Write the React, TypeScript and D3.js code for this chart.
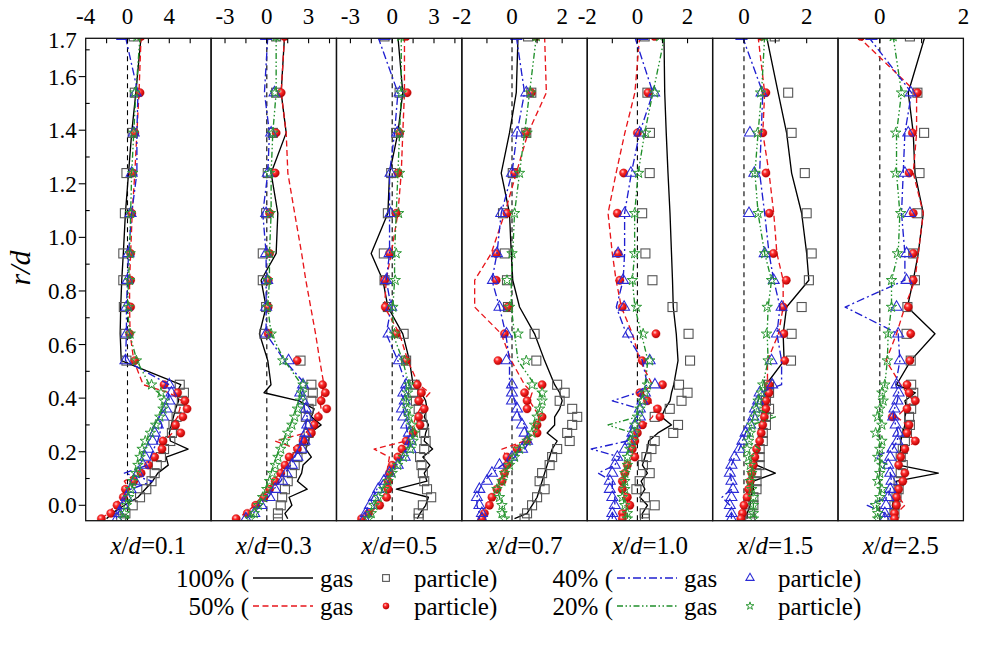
import React from "react";
import * as d3 from "d3";

// radial positions r/d of the measurement points (shared by every series)
const rPos = [1.75, 1.54, 1.39, 1.24, 1.09, 0.94, 0.84, 0.74, 0.64, 0.54,
  0.45, 0.42, 0.39, 0.36, 0.33, 0.30, 0.27, 0.24, 0.21, 0.18, 0.15, 0.12, 0.09, 0.06, 0.03, 0.00, -0.03, -0.05];

// x/d = 0.1
const a1G100 = [1.3, 0.8, 0.4, 0.1, -0.2, -0.4, -0.55, -0.65, -0.7, -0.6, 5.1, 4.7, 4.9, 4.6, 4.4, 4.2, 4.0, 4.1, 5.8, 3.7, 3.9, 2.9, 2.4, 1.7, 1.0, -0.3, -1.5, -2.0];
const a1P100 = [0.6, 0.7, 0.5, -0.1, -0.25, -0.4, -0.4, -0.35, -0.2, -0.1, 5.0, 5.4, 5.2, 5.0, 4.7, 4.4, 4.25, 4.1, 3.5, 3.2, 2.8, 2.6, 2.3, 1.8, 1.2, 0.5, -0.2, -0.6];
const a1G50 = [1.3, 1.1, 0.9, 0.7, 0.45, 0.3, 0.2, 0.2, 0.25, 0.6, 1.5, 4.0, 5.2, 5.0, 4.8, 4.3, 4.3, 3.5, 3.2, 2.8, 2.0, 1.0, -0.3, 0.2, -0.6, -1.2, -1.8, -2.6];
const a1P50 = [1.3, 1.2, 0.7, 0.5, 0.4, 0.3, 0.3, 0.3, 0.2, 0.7, 3.5, 4.8, 5.5, 5.7, 5.3, 4.6, 5.1, 3.4, 3.3, 2.6, 2.0, 1.3, 0.6, -0.2, -0.4, -1.0, -1.6, -2.5];
const a1G40 = [-0.2, 1.0, 0.9, 0.9, 0.4, 0.1, 0.0, -0.1, -0.1, -0.2, 4.0, 3.9, 4.0, 3.6, 3.0, 3.3, 3.1, 2.9, 2.5, 2.2, 1.9, -0.3, 2.4, 0.3, -0.2, -0.6, -0.9, -1.1];
const a1P40 = [-0.5, 0.8, 0.6, 0.4, 0.3, 0.1, 0.0, -0.1, -0.1, -0.2, 4.0, 4.2, 4.0, 3.7, 3.4, 2.9, 2.6, 2.4, 2.0, 1.7, 1.5, 1.0, 0.7, 0.3, -0.1, -0.4, -0.8, -1.0];
const a1G20 = [1.2, 0.8, 0.6, 0.4, 0.3, 0.2, 0.1, 0.0, 0.2, 0.9, 2.1, 3.0, 3.4, 3.3, 3.0, 2.6, 2.2, 1.8, 1.5, 1.3, 1.0, 0.8, 0.6, 0.4, 0.2, 0.1, 0.1, 0.1];
const a1P20 = [0.9, 0.7, 0.6, 0.5, 0.3, 0.25, 0.2, 0.1, 0.25, 0.85, 2.3, 3.2, 3.5, 3.4, 3.1, 2.7, 2.2, 1.7, 1.4, 1.2, 1.0, 0.8, 0.5, 0.3, 0.1, -0.1, -0.3, -0.4];

// x/d = 0.3
const a2G100 = [1.27, 1.03, 1.39, 0.31, 0.79, 0.67, -0.41, -0.05, -0.53, 0.07, 0.3, -0.2, 2.3, 3.4, 3.2, 3.9, 3.1, 3.0, 2.8, 3.2, 2.6, 2.5, 2.2, 2.9, 1.6, 1.8, 1.3, 1.5];
const a2P100 = [0.67, 0.67, 0.43, 0.07, -0.05, -0.29, -0.29, -0.05, -0.17, 2.42, 3.2, 3.3, 3.2, 3.0, 2.8, 3.1, 3.0, 2.7, 2.5, 2.2, 2.0, 1.8, 1.5, 1.3, 1.1, 1.0, 0.8, 0.8];
const a2G50 = [1.27, 1.03, 1.39, 1.51, 2.0, 2.5, 2.8, 3.15, 3.5, 3.8, 4.1, 4.0, 3.8, 3.9, 3.5, 3.2, 2.8, 0.6, 2.2, 1.7, 1.2, 0.9, 0.5, 0.1, -0.4, -0.9, -1.5, -2.3];
const a2P50 = [1.27, 1.03, 0.67, 0.6, 0.2, 0.2, 0.1, 0.1, 0.1, 2.18, 4.0, 4.2, 3.9, 4.3, 3.7, 3.4, 3.2, 2.6, 2.2, 1.6, 1.3, 1.0, 0.6, 0.2, -0.2, -0.8, -1.4, -2.2];
const a2G40 = [0.07, -0.17, 0.19, 0.07, -0.29, -0.05, -0.05, -0.05, -0.05, 1.27, 2.8, 2.5, 2.6, 2.7, 2.9, 2.8, 2.6, 2.5, 2.3, 2.0, 1.7, 1.3, 1.0, 0.5, 0.1, -0.4, -1.0, -1.5];
const a2P40 = [-0.05, 0.55, 0.31, 0.07, -0.05, -0.05, 0.03, -0.05, -0.05, 1.56, 2.6, 2.4, 2.6, 2.8, 2.9, 2.9, 2.8, 2.7, 2.5, 2.2, 1.8, 1.4, 1.1, 0.6, 0.2, -0.4, -0.9, -1.5];
const a2G20 = [0.67, 0.67, 0.43, 0.31, 0.31, 0.19, 0.19, 0.07, 0.31, 1.27, 2.5, 2.4, 2.3, 2.1, 1.9, 1.7, 1.4, 1.2, 0.9, 0.7, 0.5, 0.3, 0.1, -0.1, -0.3, -0.6, -0.9, -1.2];
const a2P20 = [0.67, 0.6, 0.43, 0.19, 0.25, 0.19, 0.07, 0.03, 0.31, 1.15, 2.6, 2.5, 2.4, 2.2, 2.0, 1.8, 1.5, 1.3, 1.0, 0.8, 0.6, 0.4, 0.2, 0.0, -0.3, -0.6, -0.9, -1.2];

// x/d = 0.5
const a3G100 = [0.41, 0.76, 0.41, -0.19, -0.31, -1.51, -0.67, -0.31, 0.76, 1.24, 1.5, 2.1, 2.4, 2.5, 2.3, 2.6, 2.4, 2.3, 2.9, 2.2, 2.7, 2.3, 2.5, 0.3, 2.6, 2.4, 2.0, 1.8];
const a3P100 = [-0.55, 0.53, 0.29, -0.07, -0.31, -0.6, -0.55, -0.31, 0.82, 1.0, 1.6, 1.5, 1.7, 1.9, 2.1, 2.2, 2.3, 2.4, 2.3, 2.0, 2.1, 2.2, 2.3, 2.5, 2.8, 2.2, 1.9, 1.9];
const a3G50 = [0.88, 0.88, 0.76, 0.65, 0.41, -0.07, -0.43, -0.55, 0.53, 1.12, 1.9, 2.7, 2.2, 2.0, 1.7, 1.5, 1.4, 1.0, -1.3, -0.2, -0.3, -0.4, -0.3, -0.5, -0.6, -1.0, -1.6, -2.1];
const a3P50 = [1.0, 1.07, 0.53, 0.41, 0.29, -0.19, -0.55, -0.5, 0.29, 1.0, 1.8, 2.1, 1.9, 2.3, 1.9, 2.0, 1.5, 1.0, 0.7, 0.4, 0.0, -0.2, -0.3, -0.3, -0.4, -0.9, -1.7, -2.2];
const a3G40 = [-1.03, 0.41, 0.17, -0.19, -0.19, -0.19, -0.43, -0.07, -0.43, 0.41, 1.0, 0.6, 0.9, 0.8, 0.9, 1.0, 1.1, 1.2, 1.1, 0.8, 0.3, -0.3, -0.7, -1.1, -1.4, -1.7, -1.9, -2.0];
const a3P40 = [-0.55, 0.53, 0.36, -0.12, -0.12, -0.19, -0.43, -0.07, -0.26, 0.48, 1.0, 0.8, 0.9, 0.7, 0.8, 1.0, 1.2, 1.3, 1.3, 0.9, 0.4, -0.2, -0.6, -1.0, -1.3, -1.6, -1.9, -2.0];
const a3G20 = [0.65, 0.65, 0.53, 0.41, 0.29, 0.17, 0.17, 0.05, 0.05, 0.76, 1.2, 1.1, 1.0, 1.1, 1.2, 1.3, 1.5, 1.5, 1.2, 0.8, 0.4, 0.0, -0.3, -0.7, -1.0, -1.3, -1.5, -1.7];
const a3P20 = [0.6, 0.65, 0.53, 0.53, 0.46, 0.29, 0.22, 0.05, 0.17, 0.88, 1.2, 1.1, 1.0, 1.1, 1.2, 1.4, 1.6, 1.5, 1.3, 0.8, 0.4, 0.0, -0.3, -0.6, -1.0, -1.3, -1.5, -1.7];

// x/d = 0.7
const a4G100 = [0.24, 0.17, -0.1, -0.43, -0.1, -0.03, 0.03, 0.3, 0.9, 1.3, 1.7, 1.9, 2.0, 1.9, 1.7, 1.7, 1.4, 1.8, 1.6, 1.5, 1.4, 1.3, 1.2, 1.1, 1.0, 0.8, 0.6, 0.1];
const a4P100 = [0.64, 0.77, 0.57, 0.03, -0.36, -0.29, -0.2, -0.16, 0.9, 0.97, 1.8, 2.1, 1.9, 2.4, 2.6, 2.4, 2.2, 2.3, 1.8, 1.6, 1.5, 1.2, 1.1, 1.3, 1.0, 0.8, 0.6, 0.5];
const a4G50 = [1.3, 1.37, 0.64, 0.17, -0.29, -0.83, -1.49, -1.49, -0.43, -0.03, 0.5, 0.8, 0.7, 0.9, 1.1, 1.0, 0.9, 0.5, -0.4, -0.2, -0.3, -0.3, -0.5, -0.6, -0.8, -1.0, -1.2, -1.3];
const a4P50 = [0.97, 0.77, 0.57, 0.1, -0.2, -0.63, -0.63, -0.16, -0.3, -0.56, 1.2, 0.5, 0.6, 0.6, 1.2, 1.0, 1.0, 0.6, 0.2, -0.2, -0.2, -0.3, -0.4, -0.6, -0.8, -0.9, -1.1, -1.2];
const a4G40 = [0.17, 0.5, 0.2, 0.0, -0.43, -0.6, -0.8, -0.5, -0.25, -0.1, -0.1, 0.0, 0.1, 0.2, 0.3, 0.5, 0.6, 0.7, 0.5, 0.1, -0.4, -0.8, -1.1, -1.3, -1.4, -1.4, -1.3, -1.3];
const a4P40 = [0.17, 0.57, 0.2, 0.0, -0.43, -0.6, -0.76, -0.5, -0.22, -0.22, 0.0, 0.0, 0.0, 0.2, 0.2, 0.4, 0.5, 0.6, 0.4, 0.0, -0.5, -0.8, -1.0, -1.3, -1.4, -1.3, -1.2, -1.2];
const a4G20 = [0.97, 0.7, 0.5, 0.3, 0.1, 0.03, -0.03, -0.03, 0.1, 0.24, 0.9, 1.1, 1.2, 1.1, 1.0, 0.9, 0.8, 0.6, 0.3, 0.1, -0.1, -0.3, -0.5, -0.6, -0.5, -0.4, -0.3, -0.2];
const a4P20 = [0.97, 0.74, 0.6, 0.3, 0.1, 0.0, -0.2, -0.1, 0.24, 0.57, 0.8, 1.2, 1.2, 1.1, 1.0, 0.9, 0.8, 0.6, 0.3, 0.1, -0.1, -0.3, -0.4, -0.6, -0.5, -0.4, -0.4, -0.3];

// x/d = 1.0
const a5G100 = [1.06, 1.09, 1.15, 1.22, 1.3, 1.36, 1.4, 1.43, 1.55, 1.62, 1.45, 1.36, 1.3, 1.1, 0.96, 1.36, 0.82, 0.45, 0.4, 0.3, 0.2, 0.4, 0.15, 0.3, 0.1, 0.4, 0.2, 0.2];
const a5P100 = [0.29, 0.4, 0.5, 0.49, 0.19, 0.32, 0.6, 1.4, 2.04, 2.1, 1.66, 2.0, 1.76, 1.29, 0.69, 1.62, 1.43, 0.69, 0.56, 0.36, 0.22, 0.49, 0.09, -0.04, 0.3, 0.69, 0.29, 0.3];
const a5G50 = [0.09, -0.1, -0.5, -0.85, -1.17, -1.0, -0.85, -0.64, -0.2, 0.1, 0.6, 0.2, 0.5, 0.7, 0.6, 0.3, 0.0, -0.2, -0.1, -0.2, -0.4, -0.5, -0.6, -0.6, -0.4, -0.4, -0.5, -0.6];
const a5P50 = [0.69, 0.42, 0.0, -0.55, -0.8, -0.77, -0.7, -0.6, 0.74, 0.19, 1.0, 0.1, 0.4, 0.8, 0.9, 0.2, 0.0, -0.1, -0.2, -0.1, -0.4, -0.5, -0.6, -0.6, -0.4, -0.3, -0.6, -0.6];
const a5G40 = [-0.11, 0.62, 0.09, -0.24, -0.51, -0.51, -0.57, -0.84, -0.44, 0.2, 0.4, 0.0, -1.0, 0.1, 0.0, -0.2, -0.3, -0.4, -1.84, -0.7, -0.9, -1.57, -1.0, -1.0, -0.9, -0.9, -1.0, -1.0];
const a5P40 = [0.2, 0.67, 0.09, -0.26, -0.51, -0.77, -0.57, -0.53, -0.37, 0.49, 0.7, 0.3, 0.2, 0.1, 0.1, -0.1, -0.2, -0.3, -0.5, -0.8, -0.9, -1.0, -1.1, -1.1, -1.0, -0.9, -1.0, -1.0];
const a5G20 = [1.09, 0.62, 0.29, 0.03, -0.11, -0.11, -0.2, -0.1, 0.16, 0.42, 0.3, 0.3, 0.1, 0.0, 0.0, -1.17, -0.2, -0.4, -0.3, -0.5, -0.4, -0.5, -0.5, -0.6, -0.6, -0.5, -0.4, -0.4];
const a5P20 = [0.89, 0.69, 0.33, 0.05, -0.11, -0.11, -0.2, -0.04, 0.23, 0.49, 0.4, 0.3, 0.2, 0.1, 0.0, -0.1, -0.1, -0.2, -0.3, -0.4, -0.4, -0.5, -0.5, -0.5, -0.6, -0.5, -0.4, -0.4];

// x/d = 1.5
const a6G100 = [0.72, 1.09, 1.36, 1.52, 1.84, 2.0, 2.07, 1.36, 1.25, 1.28, 0.7, 0.7, 0.6, 0.6, 0.6, 0.5, 0.5, 0.5, 0.4, 0.4, 0.4, 1.0, 0.3, 0.3, 0.2, 0.2, 0.1, 0.1];
const a6P100 = [0.98, 1.41, 1.52, 1.94, 2.0, 2.16, 2.07, 1.84, 1.52, 1.5, 0.8, 0.8, 0.7, 0.8, 0.7, 0.7, 0.6, 0.6, 0.5, 0.5, 0.5, 0.4, 0.4, 0.4, 0.3, 0.3, 0.2, 0.2];
const a6G50 = [0.45, 0.66, 0.6, 0.8, 0.95, 1.05, 1.25, 1.25, 1.1, 0.75, 0.75, 0.75, 0.7, 0.65, 0.6, 0.55, 0.5, 0.45, 0.4, 0.35, 0.3, 0.25, 0.2, 0.15, 0.1, 0.0, -0.05, -0.1];
const a6P50 = [0.56, 0.7, 0.6, 0.7, 0.81, 0.94, 1.35, 1.25, 1.27, 1.3, 0.8, 0.8, 0.7, 0.7, 0.65, 0.6, 0.55, 0.5, 0.4, 0.35, 0.3, 0.25, 0.2, 0.15, 0.1, 0.0, -0.05, -0.1];
const a6G40 = [-0.05, 0.6, 0.55, 0.5, 0.66, 0.8, 0.95, 1.15, 1.05, 1.2, 1.2, 0.5, 0.45, 0.35, 0.3, 0.2, 0.05, -0.05, -0.15, -0.3, -0.4, -0.45, -0.4, -0.4, -0.7, -0.45, -0.4, -0.4];
const a6P40 = [-0.08, 0.56, 0.19, 0.33, 0.16, 0.66, 0.95, 1.2, 1.05, 0.88, 0.9, 0.5, 0.45, 0.35, 0.3, 0.2, 0.05, -0.05, -0.15, -0.3, -0.4, -0.45, -0.4, -0.35, -0.4, -0.45, -0.4, -0.4];
const a6G20 = [0.66, 0.56, 0.45, 0.35, 0.45, 0.66, 0.88, 0.77, 0.74, 0.77, 0.6, 0.55, 0.45, 0.4, 1.0, 0.25, 0.2, 0.15, 0.5, 0.15, 0.2, 0.25, 0.2, 0.25, 0.3, 0.3, 0.3, 0.3];
const a6P20 = [0.66, 0.53, 0.43, 0.35, 0.45, 0.66, 0.88, 0.74, 0.72, 0.77, 0.6, 0.55, 0.45, 0.4, 0.35, 0.25, 0.2, 0.15, 0.1, 0.15, 0.2, 0.25, 0.2, 0.25, 0.3, 0.3, 0.3, 0.3];

// x/d = 2.5
const a7G100 = [1.08, 0.68, 0.8, 0.84, 1.04, 0.92, 0.8, 0.66, 1.32, 0.74, 0.4, 0.85, 0.6, 0.65, 0.6, 0.6, 0.55, 0.5, 0.5, 0.45, 0.45, 1.4, 0.4, 0.4, 0.35, 0.3, 0.35, 0.3];
const a7P100 = [0.72, 0.9, 1.06, 0.95, 0.9, 0.8, 0.84, 0.66, 0.64, 0.74, 0.75, 0.8, 0.75, 0.75, 0.7, 0.72, 0.65, 0.6, 0.55, 0.5, 0.55, 0.5, 0.45, 0.45, 0.4, 0.35, 0.35, 0.3];
const a7G50 = [-0.52, 0.88, 0.88, 0.8, 1.04, 0.92, 0.84, 0.6, 0.4, 0.15, 0.5, 0.65, 0.8, 0.6, 0.4, 0.65, 0.6, 0.9, 0.55, 0.5, 0.45, 0.55, 0.5, 0.45, 0.45, 0.6, 0.4, 0.35];
const a7P50 = [-0.45, 0.9, 0.78, 0.7, 0.8, 0.8, 0.8, 0.68, 0.74, 0.72, 0.65, 0.7, 0.85, 0.65, 0.3, 0.7, 0.65, 0.85, 0.6, 0.5, 0.45, 0.6, 0.55, 0.45, 0.4, 0.4, 0.35, 0.35];
const a7G40 = [-0.28, 0.76, 0.6, 0.56, 0.52, 0.6, 0.6, -0.83, 0.44, 0.48, 0.38, 0.45, 0.42, 0.35, 0.32, 0.38, 0.44, 0.42, 0.3, -0.1, 0.2, 0.25, 0.28, 0.25, 0.2, -0.3, 0.12, 0.12];
const a7P40 = [-0.2, 0.74, 0.68, 0.6, 0.72, 0.64, 0.64, 0.4, 0.44, 0.48, 0.4, 0.45, 0.42, 0.35, 0.32, 0.38, 0.44, 0.42, 0.3, 0.25, 0.2, 0.25, 0.28, 0.25, 0.2, 0.15, 0.12, 0.12];
const a7G20 = [0.32, 0.52, 0.4, 0.4, 0.48, 0.44, 0.28, 0.28, 0.2, 0.18, 0.12, 0.06, 0.08, 0.02, -0.03, 0.05, -0.08, 0.05, 0.0, -0.03, 0.04, 0.0, -0.04, 0.04, 0.0, -0.08, -0.05, -0.05];
const a7P20 = [0.32, 0.52, 0.38, 0.38, 0.5, 0.42, 0.28, 0.28, 0.2, 0.18, 0.12, 0.05, 0.08, 0.0, -0.05, 0.05, -0.1, 0.05, 0.0, -0.05, 0.05, 0.0, -0.05, 0.05, 0.0, -0.1, -0.05, -0.05];

// axes
const xdLabels = ["0.1", "0.3", "0.5", "0.7", "1.0", "1.5", "2.5"];
const xDomains = [[-4, 8], [-4, 5], [-4, 5], [-2, 3], [-2, 3], [-1, 3], [-1, 2]];
const xTickSteps = [2, 1.5, 1.5, 1, 1, 1, 1];
const xTickLabels = [[-4, 0, 4], [-3, 0, 3], [-3, 0, 3], [-2, 0, 2], [-2, 0, 2], [0, 2], [0, 2]];
const yDomain = [-0.0575, 1.743];
const yMajorTicks = [0, 0.2, 0.4, 0.6, 0.8, 1.0, 1.2, 1.4, 1.6];
const yMinorTicks = [0.1, 0.3, 0.5, 0.7, 0.9, 1.1, 1.3, 1.5, 1.7];
const yTopLabel = "1.7";
const legendPct = ["100%", "50%", "40%", "20%"];

const panelSeries = [
  [a1G100, a1P100, a1G50, a1P50, a1G40, a1P40, a1G20, a1P20],
  [a2G100, a2P100, a2G50, a2P50, a2G40, a2P40, a2G20, a2P20],
  [a3G100, a3P100, a3G50, a3P50, a3G40, a3P40, a3G20, a3P20],
  [a4G100, a4P100, a4G50, a4P50, a4G40, a4P40, a4G20, a4P20],
  [a5G100, a5P100, a5G50, a5P50, a5G40, a5P40, a5G20, a5P20],
  [a6G100, a6P100, a6G50, a6P50, a6G40, a6P40, a6G20, a6P20],
  [a7G100, a7P100, a7G50, a7P50, a7G40, a7P40, a7G20, a7P20],
];

const W = 992;
const H = 646;
const FR = { left: 85.7, right: 963.4, top: 38.3, bottom: 520.7 };
const FONT = "'Liberation Serif', 'Times New Roman', 'DejaVu Serif', serif";
const TXT: React.CSSProperties = { fontFamily: FONT };

type MarkerType = "square" | "ball" | "triangle" | "star";
const styles: { color: string; dash?: string; marker: MarkerType }[] = [
  { color: "#000000", marker: "square" },
  { color: "#e8161b", dash: "6,3.5", marker: "ball" },
  { color: "#2020d0", dash: "8,3,2,3", marker: "triangle" },
  { color: "#1f8f2a", dash: "6,2.5,1.5,2.5,1.5,2.5", marker: "star" },
];

const triPath = (s: number) => d3.symbol().type(d3.symbolTriangle).size(s)() as string;
const starPath = (s: number) => d3.symbol().type(d3.symbolStar).size(s)() as string;

function Marker({ type, cx, cy, k = 1 }: { type: MarkerType; cx: number; cy: number; k?: number }) {
  if (type === "square") {
    const s = 9 * k;
    return <rect x={cx - s / 2} y={cy - s / 2} width={s} height={s} fill="none" stroke="#555" strokeWidth={1.1} />;
  }
  if (type === "ball") {
    return <circle cx={cx} cy={cy} r={4.2 * k} fill="url(#ball)" stroke="#c00000" strokeWidth={0.3} />;
  }
  if (type === "triangle") {
    return <path d={triPath(52 * k * k)} transform={`translate(${cx},${cy})`} fill="none" stroke="#2a2ad6" strokeWidth={1.05} />;
  }
  return <path d={starPath(34 * k * k)} transform={`translate(${cx},${cy})`} fill="none" stroke="#2e9a36" strokeWidth={1.0} />;
}

export default function App() {
  const y = d3.scaleLinear().domain(yDomain).range([FR.bottom, FR.top]);
  const n = panelSeries.length;
  const pw = (FR.right - FR.left) / n;

  return (
    <svg width={W} height={H} viewBox={`0 0 ${W} ${H}`}
      style={{ position: "absolute", left: 0, top: 0, background: "#fff", fontFamily: FONT }}>
      <defs>
        <radialGradient id="ball" cx="0.38" cy="0.34" r="0.68">
          <stop offset="0" stopColor="#ffd0d0" />
          <stop offset="0.35" stopColor="#ff2b2b" />
          <stop offset="1" stopColor="#b50000" />
        </radialGradient>
        {panelSeries.map((_, i) => (
          <clipPath id={`clip${i}`} key={i}>
            <rect x={FR.left + i * pw} y={FR.top} width={pw} height={FR.bottom - FR.top} />
          </clipPath>
        ))}
      </defs>
      <rect x={0} y={0} width={W} height={H} fill="#fff" />

      {panelSeries.map((series, i) => {
        const x0 = FR.left + i * pw;
        const dom = xDomains[i];
        const x = d3.scaleLinear().domain(dom).range([x0, x0 + pw]);
        const step = xTickSteps[i];
        const ticks: number[] = [];
        for (let v = Math.ceil(dom[0] / step - 1e-9) * step; v <= dom[1] + 1e-9; v += step) {
          if (v > dom[0] + 1e-9 && v < dom[1] - 1e-9) ticks.push(v);
        }
        const line = d3.line<number>().x((v) => x(v)).y((_, j) => y(rPos[j]));
        return (
          <g key={i}>
            <line x1={x(0)} x2={x(0)} y1={FR.top} y2={FR.bottom} stroke="#000" strokeWidth={1.1} strokeDasharray="5,4" />
            <g clipPath={`url(#clip${i})`}>
              {styles.map((st, s) => {
                const gas = series[2 * s];
                const par = series[2 * s + 1];
                return (
                  <g key={s}>
                    <path d={line(gas) as string} fill="none" stroke={st.color} strokeWidth={1.35}
                      strokeDasharray={st.dash} strokeLinejoin="round" />
                    {par.map((v, j) => (
                      <Marker key={j} type={st.marker} cx={x(v)} cy={y(rPos[j])} />
                    ))}
                  </g>
                );
              })}
            </g>
            {ticks.map((t) => (
              <line key={t} x1={x(t)} x2={x(t)} y1={FR.top} y2={FR.top + 5} stroke="#000" strokeWidth={1.1} />
            ))}
            {xTickLabels[i].map((t) => (
              <text key={t} x={x(t)} y={24} fontSize={23} textAnchor="middle" fill="#000" style={TXT}>
                {t < 0 ? `-${Math.abs(t)}` : `${t}`}
              </text>
            ))}
            <rect x={x0} y={FR.top} width={pw} height={FR.bottom - FR.top} fill="none" stroke="#111" strokeWidth={1.3} />
            <text x={x0 + pw / 2} y={554} fontSize={25} textAnchor="middle" fill="#000" style={TXT}>
              <tspan fontStyle="italic">x</tspan>/<tspan fontStyle="italic">d</tspan>={xdLabels[i]}
            </text>
          </g>
        );
      })}

      {yMajorTicks.map((t) => (
        <g key={`ym${t}`}>
          <line x1={FR.left - 7} x2={FR.left} y1={y(t)} y2={y(t)} stroke="#000" strokeWidth={1.1} />
          <text x={FR.left - 9} y={y(t) + 8} fontSize={23} textAnchor="end" fill="#000" style={TXT}>{t.toFixed(1)}</text>
        </g>
      ))}
      {yMinorTicks.map((t) => (
        <line key={`yn${t}`} x1={FR.left} x2={FR.left + 4} y1={y(t)} y2={y(t)} stroke="#000" strokeWidth={1.1} />
      ))}
      <text x={FR.left - 9} y={y(yDomain[1]) + 10} fontSize={23} textAnchor="end" fill="#000" style={TXT}>{yTopLabel}</text>
      <text transform={`translate(30,268) rotate(-90)`} fontSize={30} fontStyle="italic" textAnchor="middle" fill="#000" style={TXT}>r/d</text>

      {[0, 2, 1, 3].map((s, k) => {
        const col = k % 2;
        const row = Math.floor(k / 2);
        const xr = col === 0 ? 249 : 613;
        const yc = 578 + row * 28;
        const st = styles[s];
        return (
          <g key={s}>
            <text x={xr} y={yc + 9} fontSize={25} textAnchor="end" fill="#000" style={TXT}>{`${legendPct[s]} (`}</text>
            <line x1={xr + 4} x2={xr + 64} y1={yc} y2={yc} stroke={st.color} strokeWidth={1.35} strokeDasharray={st.dash} />
            <text x={xr + 71} y={yc + 9} fontSize={25} fill="#000" style={TXT}>gas</text>
            <Marker type={st.marker} cx={xr + 137} cy={yc} k={0.75} />
            <text x={xr + 165} y={yc + 9} fontSize={25} fill="#000" style={TXT}>particle)</text>
          </g>
        );
      })}
    </svg>
  );
}
